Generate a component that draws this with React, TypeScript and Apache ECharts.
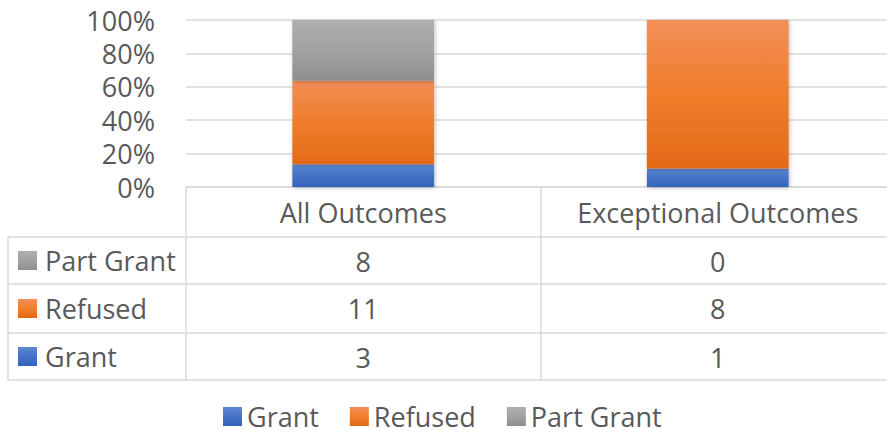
import React, { useEffect, useRef } from "react";
import * as echarts from "echarts";

const categories = ["All Outcomes", "Exceptional Outcomes"];
const grant = [3, 1];
const refused = [11, 8];
const partGrant = [8, 0];
const seriesNames = ["Grant", "Refused", "Part Grant"];

const FONT = "Open Sans";
const TXT = "#595959";
const LINE = "#d9d9d9";
const FS = 27;

const grad = (a: string, b: string, c: string) =>
  new echarts.graphic.LinearGradient(0, 0, 0, 1, [
    { offset: 0, color: a },
    { offset: 0.5, color: b },
    { offset: 1, color: c },
  ]);

const colors = [
  () => grad("#5f88d2", "#4573c5", "#3562bf"),
  () => grad("#f28f58", "#f07d2a", "#e36a17"),
  () => grad("#afafaf", "#a2a2a2", "#8e8e8e"),
];

export default function App() {
  const ref = useRef<HTMLDivElement>(null);
  useEffect(() => {
    const chart = echarts.init(ref.current!, null, { renderer: "svg" });
    const totals = categories.map((_, i) => grant[i] + refused[i] + partGrant[i]);
    const pct = (arr: number[]) => arr.map((v, i) => (totals[i] ? (v / totals[i]) * 100 : 0));
    const raw = [grant, refused, partGrant];

    const tableAxis = (offset: number, values: number[] | null, tickLen: number) => ({
      type: "category",
      gridIndex: 0,
      position: "bottom",
      offset,
      data: categories,
      axisLine: { show: true, lineStyle: { color: LINE, width: 1.5 } },
      axisTick: { show: tickLen > 0, length: tickLen, interval: 0, lineStyle: { color: LINE, width: 1.5 } },
      axisLabel: {
        show: !!values,
        interval: 0,
        margin: 24,
        verticalAlign: "middle",
        color: TXT,
        fontSize: FS,
        fontFamily: FONT,
        formatter: (_v: string, idx: number) => (values ? String(values[idx]) : ""),
      },
      splitLine: { show: false },
    });

    const rowLabels = [
      { name: "Part Grant", y: 260.5, c: 2 },
      { name: "Refused", y: 308.5, c: 1 },
      { name: "Grant", y: 356.5, c: 0 },
    ];

    const graphics: any[] = [];
    [237, 284, 333, 380].forEach((y) =>
      graphics.push({
        type: "line",
        shape: { x1: 8, y1: y, x2: 187, y2: y },
        style: { stroke: LINE, lineWidth: 1.5 },
      })
    );
    graphics.push({
      type: "line",
      shape: { x1: 8, y1: 237, x2: 8, y2: 380 },
      style: { stroke: LINE, lineWidth: 1.5 },
    });
    rowLabels.forEach((r) => {
      graphics.push({
        type: "rect",
        shape: { x: 18, y: r.y - 9.5, width: 19, height: 19 },
        style: { fill: colors[r.c]() },
      });
      graphics.push({
        type: "text",
        x: 45,
        y: r.y,
        style: {
          text: r.name,
          fill: TXT,
          font: `${FS}px "${FONT}"`,
          verticalAlign: "middle",
          align: "left",
        },
      });
    });

    chart.setOption({
      animation: false,
      grid: { left: 186, top: 20, width: 709, height: 167, containLabel: false },
      legend: {
        data: seriesNames,
        left: 223,
        top: 403,
        padding: 0,
        itemWidth: 19,
        itemHeight: 19,
        itemGap: 31,
        icon: "rect",
        textStyle: { color: TXT, fontSize: FS, fontFamily: FONT, lineHeight: 27 },
      },
      xAxis: [
        {
          type: "category",
          data: categories,
          position: "bottom",
          axisLine: { show: true, lineStyle: { color: LINE, width: 1.5 } },
          axisTick: { show: true, length: 50, interval: 0, lineStyle: { color: LINE, width: 1.5 } },
          axisLabel: {
            interval: 0,
            margin: 25,
            verticalAlign: "middle",
            color: TXT,
            fontSize: FS,
            fontFamily: FONT,
          },
        },
        tableAxis(50, partGrant, 47),
        tableAxis(97, refused, 49),
        tableAxis(146, grant, 47),
        tableAxis(193, null, 0),
      ],
      yAxis: {
        type: "value",
        min: 0,
        max: 100,
        interval: 20,
        axisLine: { show: false },
        axisTick: { show: false },
        axisLabel: {
          formatter: "{value}%",
          margin: 31,
          color: TXT,
          fontSize: FS,
          fontFamily: FONT,
        },
        splitLine: { lineStyle: { color: LINE, width: 1.5 } },
      },
      series: seriesNames.map((name, k) => ({
        name,
        type: "bar",
        stack: "total",
        xAxisIndex: 0,
        yAxisIndex: 0,
        barWidth: "40%",
        data: pct(raw[k]),
        itemStyle: {
          color: colors[k](),
          shadowBlur: 4,
          shadowColor: "rgba(0,0,0,0.25)",
          shadowOffsetX: 1,
          shadowOffsetY: 1,
        },
      })),
      graphic: graphics,
    });
    return () => chart.dispose();
  }, []);
  return (
    <div
      ref={ref}
      style={{ position: "fixed", left: 0, top: 0, width: 900, height: 435, background: "#fff" }}
    />
  );
}
